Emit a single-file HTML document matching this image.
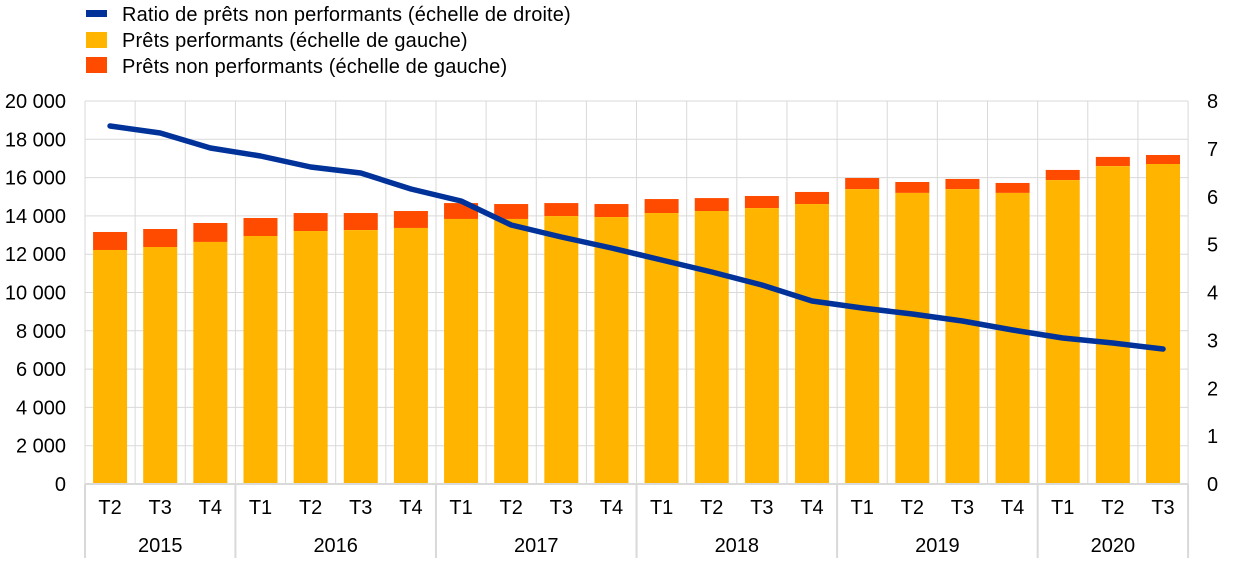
<!DOCTYPE html>
<html><head><meta charset="utf-8"><style>
body{margin:0;background:#fff;width:1240px;height:568px;overflow:hidden}
svg{display:block;font-family:"Liberation Sans",sans-serif}
</style></head><body>
<svg width="1240" height="568" xmlns="http://www.w3.org/2000/svg" id="s">
<g id="legend" font-size="20" fill="#000">
<rect x="86" y="10" width="21" height="7" fill="#003299"/>
<text x="122" y="21" letter-spacing="0.15">Ratio de prêts non performants (échelle de droite)</text>
<rect x="86" y="32" width="21" height="16" fill="#FFB400"/>
<text x="122" y="47" letter-spacing="0.15">Prêts performants (échelle de gauche)</text>
<rect x="86" y="57" width="21" height="16" fill="#FF4B00"/>
<text x="122" y="73" letter-spacing="0.15">Prêts non performants (échelle de gauche)</text>
</g>
<g id="g"></g>
</svg>
<script>
const g=document.getElementById('g');let h='';
const X0=85,W=50.14,Y0=484,k=383/20000;
for(let i=0;i<=10;i++){const y=Y0-i*38.3;h+=`<line x1="${X0}" x2="1188" y1="${y}" y2="${y}" stroke="#d9d9d9"/>`;
h+=`<text x="66" y="${y+7}" text-anchor="end" font-size="20">${(i*2000).toLocaleString('fr-FR').replace(/\s/g,' ')}</text>`;}
for(let i=0;i<=8;i++){const y=Y0-i*47.875;h+=`<text x="1207" y="${y+7}" font-size="20">${i}</text>`;}
for(let i=0;i<=22;i++){const x=X0+i*W;h+=`<line x1="${x}" x2="${x}" y1="101" y2="484" stroke="#d9d9d9"/>`;}
const tot=[13160,13316,13630,13890,14150,14150,14255,14670,14620,14670,14620,14880,14930,15040,15250,15980,15770,15930,15720,16400,17080,17180];
const perf=[12220,12376,12640,12950,13210,13260,13370,13840,13840,13990,13940,14150,14255,14410,14620,15400,15200,15400,15200,15870,16600,16710];
const q=['T2','T3','T4'];for(let y=0;y<5;y++)q.push('T1','T2','T3','T4');q.push('T1','T2','T3');
let pts=[];const ly=[126,133,148,156,167,173,189,201,225,237,248,260,272,285,301,308,314,321,330,338,343,349];
for(let i=0;i<22;i++){const cx=X0+W*(i+0.5);
h+=`<rect x="${cx-17}" y="${Y0-tot[i]*k}" width="34" height="${(tot[i]-perf[i])*k}" fill="#FF4B00"/>`;
h+=`<rect x="${cx-17}" y="${Y0-perf[i]*k}" width="34" height="${perf[i]*k}" fill="#FFB400"/>`;
h+=`<text x="${cx}" y="514" text-anchor="middle" font-size="20">${q[i]}</text>`;pts.push(cx+','+ly[i]);}
h+=`<line x1="${X0}" x2="1188" y1="484" y2="484" stroke="#d9d9d9" stroke-width="2"/>`;
const yb=[0,3,7,11,15,19,22],yrs=[2015,2016,2017,2018,2019,2020];
yb.forEach(b=>{const x=X0+b*W;h+=`<line x1="${x}" x2="${x}" y1="484" y2="558" stroke="#d9d9d9" stroke-width="2"/>`;});
for(let i=0;i<6;i++){const cx=X0+W*(yb[i]+yb[i+1])/2;h+=`<text x="${cx}" y="552" text-anchor="middle" font-size="20">${yrs[i]}</text>`;}
h+=`<polyline points="${pts.join(' ')}" fill="none" stroke="#003299" stroke-width="5.5" stroke-linecap="round" stroke-linejoin="round"/>`;
g.innerHTML=h;
</script>
</body></html>
